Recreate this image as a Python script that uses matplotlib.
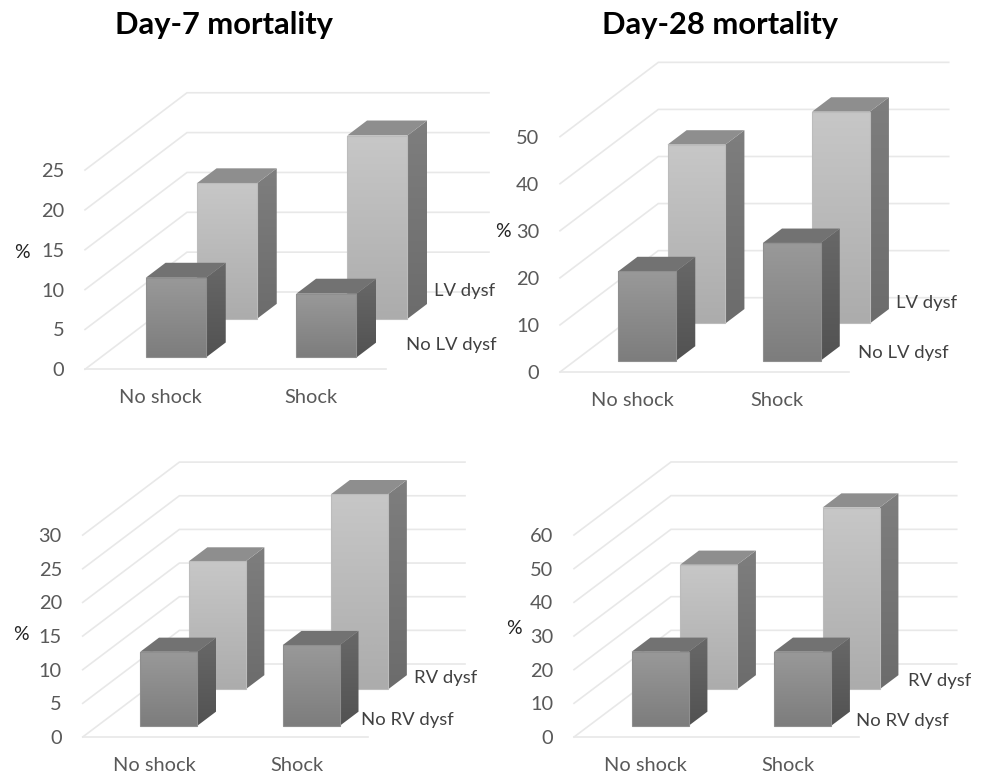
import matplotlib
matplotlib.use("Agg")
import numpy as np
import matplotlib.pyplot as plt
from matplotlib.colors import LinearSegmentedColormap
from matplotlib.patches import Polygon

FIG_W, FIG_H = 984, 775
plt.rcParams['font.family'] = ['Lato', 'DejaVu Sans']

# ---- data -------------------------------------------------------------
categories = ["No shock", "Shock"]
lv7_no = [10, 8]
lv7_yes = [17, 23]
lv28_no = [19, 25]
lv28_yes = [38, 45]
rv7_no = [11, 12]
rv7_yes = [19, 29]
rv28_no = [22, 22]
rv28_yes = [37, 54]
ticks_lv7 = [0, 5, 10, 15, 20, 25]
ticks_lv28 = [0, 10, 20, 30, 40, 50]
ticks_rv7 = [0, 5, 10, 15, 20, 25, 30]
ticks_rv28 = [0, 10, 20, 30, 40, 50, 60]

# ---- layout (pixels) --------------------------------------------------
panels = [
    dict(front=lv7_no, back=lv7_yes, ticks=ticks_lv7, x0=85, W=301, y0=369.3, ppu=7.97,
         dx=102, dy=77.3, right=489, names=("No LV dysf", "LV dysf"),
         name_xy=((406, 345), (434, 291)), pct=(22, 252), title="Day-7 mortality", title_x=224),
    dict(front=lv28_no, back=lv28_yes, ticks=ticks_lv28, x0=560, W=289, y0=372, ppu=4.707,
         dx=98.3, dy=74.3, right=948.7, names=("No LV dysf", "LV dysf"),
         name_xy=((858, 353), (896, 302.7)), pct=(503, 231.7), title="Day-28 mortality", title_x=720),
    dict(front=rv7_no, back=rv7_yes, ticks=ticks_rv7, x0=82.7, W=285, y0=737, ppu=6.73,
         dx=96.7, dy=73, right=465, names=("No RV dysf", "RV dysf"),
         name_xy=((361, 720), (414, 678)), pct=(21, 634), title=None, title_x=0),
    dict(front=rv28_no, back=rv28_yes, ticks=ticks_rv28, x0=574, W=285, y0=737, ppu=3.367,
         dx=97, dy=73, right=956.7, names=("No RV dysf", "RV dysf"),
         name_xy=((855.7, 721), (908, 680.7)), pct=(514, 629), title=None, title_x=0),
]

BAR_W = 0.4
DEPTH_C = (0.25, 0.75)
DEPTH_H = 0.097
STYLES = {
    "front": dict(face=("#999999", "#7d7d7d"), side=("#686868", "#525252"), top="#727272", edge="#8f8f8f"),
    "back": dict(face=("#c7c7c7", "#acacac"), side=("#7e7e7e", "#6c6c6c"), top="#8e8e8e", edge="#bcbcbc"),
}
GRID = "#e8e8e8"
TICK = "#595959"

fig = plt.figure(figsize=(FIG_W / 100, FIG_H / 100), dpi=100, facecolor="white")


def grad(ax, verts, c_top, c_bot, z):
    verts = np.asarray(verts)
    cmap = LinearSegmentedColormap.from_list("g", [c_top, c_bot])
    ext = (verts[:, 0].min(), verts[:, 0].max(), verts[:, 1].min(), verts[:, 1].max())
    im = ax.imshow(np.linspace(0, 1, 64)[:, None], cmap=cmap, extent=ext, origin="upper",
                   aspect="auto", zorder=z, interpolation="bilinear")
    poly = Polygon(verts, closed=True, transform=ax.transData)
    im.set_clip_path(poly)
    im.set_clip_box(fig.bbox)


for p in panels:
    vmax = p["ticks"][-1]
    ax = fig.add_axes([p["x0"] / FIG_W, 1 - p["y0"] / FIG_H,
                       p["W"] / FIG_W, p["ppu"] * vmax / FIG_H])
    ppc = p["W"] / 2
    ddx, ddy = p["dx"] / ppc, p["dy"] / p["ppu"]

    def proj(x, d, v):
        return (x + d * ddx, v + d * ddy)

    # walls and floor grid
    right = (p["right"] - p["x0"]) / ppc
    for t in p["ticks"]:
        a = proj(0, 0, t)
        b = proj(0, 1, t)
        ax.plot([a[0], b[0], right], [a[1], b[1], b[1]], color=GRID, lw=1.2, zorder=1,
                clip_on=False, solid_joinstyle="miter")
    ax.plot([0, 2], [0, 0], color=GRID, lw=1.2, zorder=1, clip_on=False)

    # bars, back row first
    z = 2
    for key, dc in (("back", DEPTH_C[1]), ("front", DEPTH_C[0])):
        st = STYLES[key]
        for i, val in enumerate(p[key]):
            l, r = i + 0.5 - BAR_W / 2, i + 0.5 + BAR_W / 2
            d0, d1 = dc - DEPTH_H, dc + DEPTH_H
            side = [proj(r, d0, 0), proj(r, d1, 0), proj(r, d1, val), proj(r, d0, val)]
            grad(ax, side, st["side"][0], st["side"][1], z)
            top = [proj(l, d0, val), proj(r, d0, val), proj(r, d1, val), proj(l, d1, val)]
            ax.add_patch(Polygon(top, closed=True, facecolor=st["top"], edgecolor="none",
                                 zorder=z, clip_on=False))
            face = [proj(l, d0, 0), proj(r, d0, 0), proj(r, d0, val), proj(l, d0, val)]
            grad(ax, face, st["face"][0], st["face"][1], z + 0.1)
            ax.add_patch(Polygon(face, closed=True, facecolor="none", edgecolor=st["edge"],
                                 lw=0.8, zorder=z + 0.2, clip_on=False))
            z += 1

    ax.set_xlim(0, 2)
    ax.set_ylim(0, vmax)
    ax.set_xticks([0.5, 1.5], categories)
    ax.set_yticks(p["ticks"])
    ax.tick_params(axis="both", length=0, labelsize=14.4, labelcolor=TICK)
    ax.tick_params(axis="y", pad=15)
    ax.tick_params(axis="x", pad=14.5)
    ax.patch.set_visible(False)
    for s in ax.spines.values():
        s.set_visible(False)

    for name, (nx, ny) in zip(p["names"], p["name_xy"]):
        fig.text(nx / FIG_W, 1 - ny / FIG_H, name, ha="left", va="center",
                 fontsize=13.3, color="#404040")
    fig.text(p["pct"][0] / FIG_W, 1 - p["pct"][1] / FIG_H, "%", ha="center", va="center",
             fontsize=14, color="#222222")
    if p["title"]:
        fig.text(p["title_x"] / FIG_W, 1 - 25 / FIG_H, p["title"], ha="center", va="center",
                 fontsize=22.2, fontweight="bold", color="black")

fig.savefig("out.png", dpi=100, facecolor="white")
